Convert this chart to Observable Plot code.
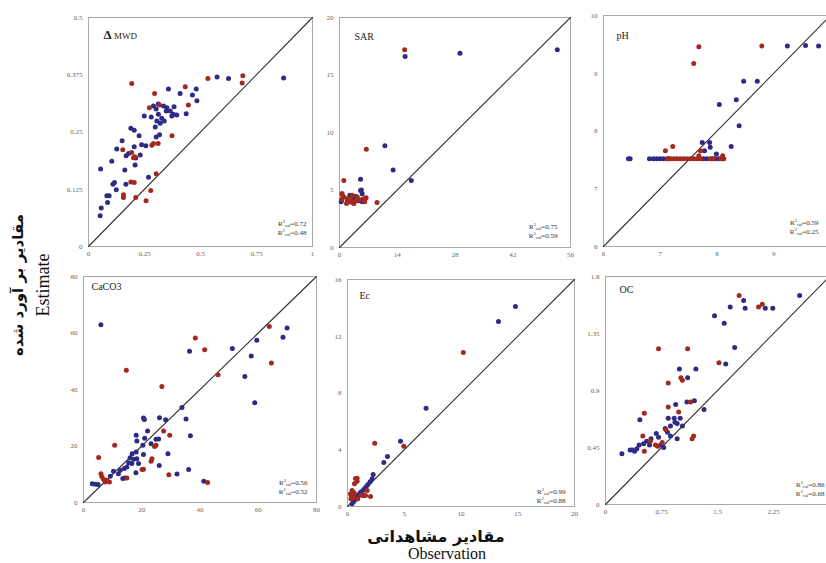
<!DOCTYPE html>
<html><head><meta charset="utf-8">
<script src="https://cdn.jsdelivr.net/npm/d3@7"></script>
<script src="https://cdn.jsdelivr.net/npm/@observablehq/plot@0.6"></script>
<style>
body{margin:0;background:#fff;}
#wrap{position:relative;width:826px;height:563px;overflow:hidden;background:#fff;}
.panel{position:absolute;}
.lab{position:absolute;white-space:nowrap;color:#111;transform:translate(-50%,-50%);line-height:1;}
.rot{transform:translate(-50%,-50%) rotate(-90deg);}
</style></head><body>
<div id="wrap"></div>
<script>
// ---------- data: [observed, estimated] ----------
const mwdCal = [[0.052,0.067],[0.057,0.084],[0.054,0.169],[0.085,0.096],[0.082,0.111],[0.092,0.111],[0.104,0.186],[0.109,0.136],[0.116,0.140],[0.124,0.124],[0.126,0.213],[0.150,0.231],[0.162,0.167],[0.167,0.136],[0.168,0.198],[0.179,0.203],[0.189,0.258],[0.204,0.254],[0.204,0.218],[0.211,0.193],[0.208,0.178],[0.231,0.200],[0.237,0.222],[0.226,0.242],[0.256,0.220],[0.268,0.151],[0.249,0.285],[0.280,0.283],[0.290,0.307],[0.302,0.300],[0.312,0.289],[0.298,0.261],[0.305,0.274],[0.320,0.269],[0.327,0.280],[0.338,0.274],[0.347,0.296],[0.357,0.344],[0.335,0.307],[0.365,0.296],[0.372,0.285],[0.382,0.305],[0.394,0.287],[0.379,0.289],[0.302,0.239],[0.317,0.244],[0.409,0.334],[0.436,0.290],[0.464,0.331],[0.481,0.344],[0.484,0.318],[0.574,0.370],[0.625,0.367],[0.871,0.368],[0.312,0.311],[0.350,0.303]];
const mwdVal = [[0.193,0.356],[0.295,0.334],[0.272,0.303],[0.317,0.309],[0.432,0.349],[0.446,0.309],[0.533,0.367],[0.689,0.373],[0.686,0.357],[0.373,0.242],[0.290,0.225],[0.311,0.225],[0.283,0.221],[0.193,0.205],[0.153,0.211],[0.201,0.194],[0.207,0.196],[0.189,0.141],[0.204,0.140],[0.156,0.113],[0.156,0.107],[0.211,0.107],[0.257,0.100],[0.278,0.122],[0.302,0.159]];

const sarCal = [[15.9,16.6],[29.2,16.9],[52.8,17.2],[11.0,8.84],[13.0,6.75],[17.4,5.83],[5.1,5.94],[5.3,5.0],[5.1,4.96],[5.5,4.67],[0.4,3.97],[0.5,4.09],[1.9,4.1],[3.1,4.2],[3.9,4.06],[4.0,4.43],[4.7,4.06],[5.7,4.2],[3.5,4.4],[2.5,4.55],[5.5,3.97],[6.1,4.15]];
const sarVal = [[15.8,17.2],[6.5,8.55],[1.05,5.83],[9.1,3.92],[0.6,4.7],[0.65,4.6],[1.05,4.4],[1.86,4.23],[2.3,3.97],[2.7,4.1],[2.9,3.94],[3.5,3.83],[4.0,4.09],[4.3,4.4],[5.9,4.1],[6.1,4.26],[6.46,4.32],[1.7,3.83],[3.1,4.55],[4.7,4.17],[0.5,4.17],[6.1,3.97]];

const phCal = [[9.24,9.47],[9.56,9.48],[9.79,9.47],[8.47,8.86],[8.71,8.86],[8.34,8.54],[8.04,8.46],[8.39,8.09],[8.25,7.73],[7.74,7.80],[7.87,7.80],[7.88,7.72],[7.78,7.66],[7.99,7.60],[6.44,7.52],[6.47,7.52],[6.81,7.52],[6.88,7.52],[6.94,7.52],[7.0,7.52],[7.06,7.52],[7.15,7.52],[7.76,7.52],[7.82,7.52],[7.91,7.52],[7.97,7.52],[8.03,7.52],[8.09,7.52]];
const phVal = [[7.68,9.46],[8.79,9.47],[7.59,9.17],[7.09,7.66],[7.22,7.73],[7.71,7.66],[7.68,7.57],[8.1,7.57],[7.12,7.52],[7.18,7.52],[7.24,7.52],[7.29,7.52],[7.35,7.52],[7.41,7.52],[7.47,7.52],[7.53,7.52],[7.59,7.52],[7.65,7.52],[7.71,7.52],[7.88,7.52],[7.94,7.52],[8.06,7.52],[8.12,7.52]];

const cacoCal = [[5.96,62.9],[36.4,53.5],[51.1,54.5],[59.5,57.4],[57.6,51.9],[55.4,44.6],[58.8,35.3],[68.5,58.5],[69.9,61.8],[33.8,33.6],[35.2,29.6],[36.7,23.6],[26.1,30.0],[28.2,29.3],[36.1,11.7],[32.1,10.1],[41.3,7.5],[29.0,17.3],[26.0,13.1],[20.6,29.9],[20.9,29.4],[18.1,23.8],[18.3,21.8],[22.0,25.3],[21.0,22.7],[23.2,20.8],[20.4,20.3],[24.9,22.4],[25.8,22.5],[20.6,17.0],[18.1,17.9],[16.7,17.3],[16.0,15.8],[17.2,15.3],[18.3,15.5],[18.9,13.8],[15.5,14.1],[14.9,12.6],[14.0,12.0],[12.6,11.4],[12.0,10.2],[10.3,11.1],[13.5,8.5],[14.3,8.7],[9.2,9.3],[3.0,6.6],[4.0,6.5],[5.0,6.4],[18.0,10.5],[16.6,13.8]];
const cacoVal = [[38.4,58.2],[41.6,54.1],[63.8,62.3],[64.5,49.4],[46.2,45.2],[14.7,46.8],[26.9,41.1],[10.7,20.3],[5.2,15.9],[27.5,25.3],[29.6,23.8],[24.9,20.3],[23.5,15.5],[23.2,14.6],[20.6,11.8],[20.1,11.7],[29.3,9.8],[42.6,7.1],[14.9,8.7],[6.0,10.2],[6.3,9.1],[6.9,8.2],[8.0,7.9],[8.9,7.3],[7.4,7.3],[24.4,19.8]];

const ecCal = [[14.8,14.1],[13.3,13.04],[6.92,6.92],[4.67,4.6],[3.52,3.52],[3.2,3.1],[2.26,2.25],[2.17,1.95],[1.99,1.75],[1.8,1.55],[1.65,1.4],[1.5,1.25],[1.35,1.12],[1.15,1.0],[1.0,0.85],[0.88,0.7],[0.7,0.5],[0.55,0.35],[0.4,0.2],[1.44,0.78]];
const ecVal = [[10.2,10.85],[2.4,4.46],[4.96,4.25],[0.7,1.97],[0.85,2.0],[0.85,1.78],[0.62,1.6],[0.41,1.13],[0.26,0.9],[0.35,0.75],[0.5,0.85],[0.6,0.95],[0.45,0.6],[0.3,0.55],[1.59,0.78],[2.03,0.7],[1.73,1.13],[0.9,0.55],[1.2,0.8]];

const ocCal = [[2.60,1.65],[1.85,1.61],[1.67,1.56],[1.87,1.55],[2.14,1.55],[2.24,1.55],[1.46,1.49],[1.59,1.43],[1.73,1.24],[1.61,1.11],[1.21,1.07],[0.99,1.07],[1.10,1.00],[1.19,0.82],[1.09,0.81],[1.32,0.75],[0.94,0.79],[0.46,0.67],[0.84,0.68],[0.92,0.68],[1.00,0.68],[0.93,0.65],[0.87,0.62],[0.96,0.64],[1.03,0.62],[0.80,0.60],[0.83,0.57],[0.68,0.56],[0.71,0.53],[0.87,0.54],[0.96,0.52],[0.61,0.52],[0.55,0.50],[0.51,0.48],[0.59,0.47],[0.45,0.47],[0.42,0.44],[0.36,0.43],[0.33,0.43],[0.39,0.42],[0.22,0.40],[0.74,0.47],[0.78,0.45]];
const ocVal = [[1.79,1.65],[2.10,1.58],[2.05,1.56],[0.71,1.23],[1.10,1.23],[1.52,1.12],[0.84,0.96],[1.01,1.00],[1.03,0.98],[0.84,0.77],[0.98,0.73],[1.14,0.81],[0.52,0.72],[0.50,0.54],[1.18,0.54],[1.16,0.52],[0.81,0.59],[0.60,0.50],[0.52,0.42],[0.70,0.46],[0.76,0.49],[0.67,0.47]];

// ---------- axes, ticks, titles, statistics ----------
const titles = ["Δ MWD","SAR","pH","CaCO3","Ec","OC"];
const xDomains = [[0,1],[0,56],[6,10],[0,80],[0,20],[0,3]];
const yDomains = [[0,0.5],[0,20],[6,10],[0,80],[0,16],[0,1.8]];
const xTicks = [[0,0.25,0.5,0.75,1],[0,14,28,42,56],[6,7,8,9],[0,20,40,60,80],[0,5,10,15,20],[0,0.75,1.5,2.25]];
const yTicks = [[0,0.125,0.25,0.375,0.5],[0,5,10,15,20],[6,7,8,9,10],[0,20,40,60,80],[0,4,8,12,16],[0,0.45,0.9,1.35,1.8]];
const r2Cal = ["0.72","0.75","0.59","0.56","0.99","0.86"];
const r2Val = ["0.48","0.59","0.25","0.52","0.88","0.68"];
const calData = [mwdCal,sarCal,phCal,cacoCal,ecCal,ocCal];
const valData = [mwdVal,sarVal,phVal,cacoVal,ecVal,ocVal];

// ---------- layout (frame box in page pixels: left, top, right, bottom) ----------
const boxes = [[88,17,312,246],[339,17,570,247],[603,15,830,246],[83,276,316,502],[347,279,574,506],[605,276,829,504]];
const titleOff = [[15,14],[15,15],[13,16],[8,6],[12,12],[14,9]];
const r2Off = [[-6,-12],[-13,-10],[-12,-13],[-9,-9],[-9,-4],[-5,-9]];

const colCal = "#2e2b86", colVal = "#a3291e";
const wrap = document.getElementById("wrap");

for (let i = 0; i < 6; i++) {
  const [L,T,R,B] = boxes[i];
  const ml = 34, mr = 4, mt = 6, mb = 18;
  const w = R - L + ml + mr, h = B - T + mt + mb;
  const xd = xDomains[i], yd = yDomains[i];
  const svg = Plot.plot({
    width: w, height: h, marginLeft: ml, marginRight: mr, marginTop: mt, marginBottom: mb,
    style: {fontFamily: "'Liberation Serif', serif", fontSize: "7px", color: "#666", background: "transparent", maxWidth: "none", overflow: "visible"},
    x: {domain: xd, ticks: xTicks[i], tickFormat: d => String(d), tickSize: 0, tickPadding: 5, label: null},
    y: {domain: yd, ticks: yTicks[i], tickFormat: d => String(d), tickSize: 0, tickPadding: 6, label: null},
    marks: [
      Plot.frame({stroke: "#a9a9a9", strokeWidth: 1}),
      Plot.line([[xd[0],yd[0]],[xd[1],yd[1]]], {x: d => d[0], y: d => d[1], stroke: "#333", strokeWidth: 1.1}),
      Plot.dot(calData[i], {x: d => d[0], y: d => d[1], r: 2.5, fill: colCal}),
      Plot.dot(valData[i], {x: d => d[0], y: d => d[1], r: 2.5, fill: colVal}),
      Plot.text([titles[i]], {frameAnchor: "top-left", text: d => d, dx: titleOff[i][0], dy: titleOff[i][1], textAnchor: "start", fontSize: 10, fill: "#222"}),
      Plot.text(["R2cal=" + r2Cal[i]], {frameAnchor: "bottom-right", text: d => d, dx: r2Off[i][0], dy: r2Off[i][1] - 9, textAnchor: "end", fontSize: 7, fill: "#333"}),
      Plot.text(["R2val=" + r2Val[i]], {frameAnchor: "bottom-right", text: d => d, dx: r2Off[i][0], dy: r2Off[i][1], textAnchor: "end", fontSize: 7, fill: "#333"})
    ]
  });
  // typographic touches: superscripts/subscripts and the Δ symbol
  svg.querySelectorAll("text").forEach(t => {
    const s = t.textContent;
    let m = s.match(/^R2(cal|val)=(.*)$/);
    if (m) {
      t.innerHTML = `R<tspan dy="-2.6" font-size="4.6">2</tspan><tspan dy="4.4" font-size="4.6">${m[1]}</tspan><tspan dy="-1.8">=${m[2]}</tspan>`;
    } else if (s === "Δ MWD") {
      t.innerHTML = `<tspan font-size="13" font-weight="bold">Δ</tspan><tspan font-size="9"> MWD</tspan>`;
    }
  });
  const div = document.createElement("div");
  div.className = "panel";
  div.style.left = (L - ml) + "px";
  div.style.top = (T - mt) + "px";
  div.style.width = w + "px";
  div.appendChild(svg);
  wrap.appendChild(div);
}

function label(text, x, y, css, cls) {
  const d = document.createElement("div");
  d.className = "lab" + (cls ? " " + cls : "");
  d.textContent = text;
  d.style.left = x + "px"; d.style.top = y + "px";
  Object.assign(d.style, css);
  wrap.appendChild(d);
}
const faLabelY = "مقادیر بر آورد شده", enLabelY = "Estimate";
const faLabelX = "مقادیر مشاهداتی", enLabelX = "Observation";
label(faLabelY, 18, 285, {font: "bold 15px 'DejaVu Sans', sans-serif", direction: "rtl"}, "rot");
label(enLabelY, 43, 285, {font: "18px 'Liberation Serif', serif"}, "rot");
label(faLabelX, 436, 536, {font: "bold 16px 'DejaVu Sans', sans-serif", direction: "rtl"});
label(enLabelX, 447, 554, {font: "16px 'Liberation Serif', serif"});
</script>
</body></html>
